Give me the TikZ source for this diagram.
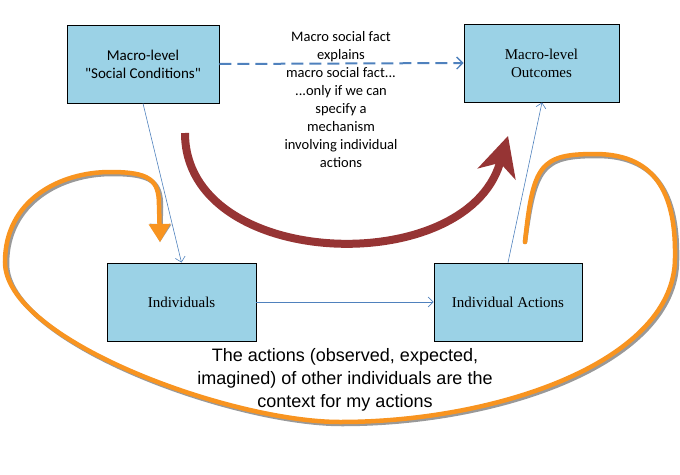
\documentclass[tikz,border=0pt]{standalone}
\usepackage{fontspec}
\setmainfont{Liberation Serif}
\newfontfamily\calfont{Carlito}
\newfontfamily\arialfont{Liberation Sans}
\usetikzlibrary{arrows.meta}
\definecolor{boxfill}{RGB}{155,210,230}
\definecolor{linkblue}{RGB}{79,129,189}
\definecolor{mechred}{RGB}{150,52,52}
\definecolor{looporange}{RGB}{248,148,32}
\begin{document}
\begin{tikzpicture}[x=1pt,y=-1pt,
  box/.style={draw=black, line width=0.9pt, fill=boxfill, minimum height=78pt, inner sep=0pt, align=center},
  link/.style={draw=linkblue, line width=0.6pt, -{Straight Barb[length=5pt,width=10pt]}},
  dashlink/.style={draw=linkblue, line width=2pt, dash pattern=on 12pt off 6pt, -{Straight Barb[length=6pt,width=12pt,line width=1.3pt]}},
  mech/.style={draw=mechred, line width=8pt, -{Stealth[length=40pt,width=40pt,inset=12pt,line width=0pt]}},
  loop/.style={line width=4.5pt, line cap=round, -{Triangle[length=18pt,width=22pt,line width=0pt]}}
]
\useasboundingbox (0,0) rectangle (680,474);

\node[box, minimum width=152pt, font=\calfont\fontsize{15}{18}\selectfont] (b1) at (143,64) {Macro-level\\"Social Conditions"};
\node[box, minimum width=155pt, font=\fontsize{15}{18}\selectfont] (b2) at (541.5,63) {Macro-level\\Outcomes};
\node[box, minimum width=149pt, font=\fontsize{15}{18}\selectfont] (b3) at (181.5,302) {Individuals};
\node[box, minimum width=148pt, font=\fontsize{15}{18}\selectfont] (b4) at (508,302) {Individual Actions};

\draw[dashlink] (b1.east) -- (b2.west);
\draw[link] (b1.south) -- (b3.north);
\draw[link] (b3.east) -- (b4.west);
\draw[link] (b4.north) -- ([xshift=0.5pt]b2.south);

\node[align=center, font=\calfont\fontsize{14.5}{18}\selectfont] (mid) at (341,100)
  {Macro social fact\\explains\\macro social fact...\\...only if we can\\specify a\\mechanism\\involving individual\\actions};

\coordinate (ms) at (185,133);
\coordinate (me) at (508,136);
\draw[mech] (ms) .. controls (185,270) and (465,280) .. (me);

\coordinate (ls) at (525,242);
\coordinate (le) at (160,242);
\foreach \col/\off/\op in {black/2/0.4, looporange/0/1}{
\draw[loop, draw=\col, draw opacity=\op, fill opacity=\op, shift={(\off,\off)}]
  (ls) .. controls (533,165) and (540,154) .. (595,154)
       .. controls (660,154) and (676,200) .. (675,258)
       .. controls (675,360) and (500,422) .. (340,422)
       .. controls (230,422) and (5,340) .. (5,262)
       .. controls (5,200) and (60,172) .. (110,172)
       .. controls (150,172) and (159,180) .. (159,205)
       -- (le);
}

\node[align=center, font=\arialfont\fontsize{18}{23}\selectfont] (ctx) at (345,380)
  {The actions (observed, expected,\\imagined) of other individuals are the\\context for my actions};
\end{tikzpicture}
\end{document}
